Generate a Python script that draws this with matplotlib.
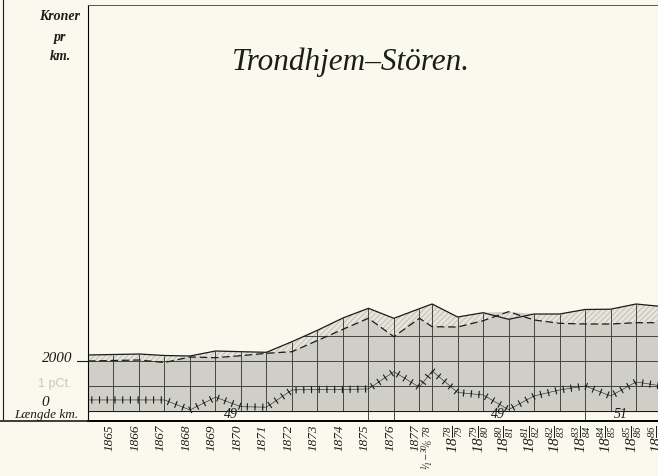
import numpy as np
import matplotlib
matplotlib.use("Agg")
import matplotlib.pyplot as plt
from matplotlib import patheffects
from matplotlib.lines import Line2D

# periods: length in years (the first half of 1878 is a half-year column)
period_labels = [
    "1865", "1866", "1867", "1868", "1869", "1870", "1871", "1872", "1873",
    "1874", "1875", "1876", "1877", r"$^{1}\!/\!_{1}\!-\!^{30}\!/\!_{6}\ 78$",
    r"$18\frac{78}{79}$", r"$18\frac{79}{80}$", r"$18\frac{80}{81}$",
    r"$18\frac{81}{82}$", r"$18\frac{82}{83}$", r"$18\frac{83}{84}$",
    r"$18\frac{84}{85}$", r"$18\frac{85}{86}$", r"$18\frac{86}{87}$",
]
period_years = [1] * 13 + [0.5] + [1] * 9

# kroner per km (value at start, then at the end of each period)
income = [2228, 2248, 2268, 2208, 2188, 2388, 2360, 2336, 2760, 3216, 3708,
          4096, 3696, 4080, 4268, 3748, 3920, 3656, 3868, 3868, 4048, 4060,
          4268, 4168]
expenses = [1988, 2008, 2028, 1928, 2148, 2120, 2200, 2296, 2360, 2808, 3256,
            3696, 2960, 3696, 3360, 3348, 3600, 3960, 3628, 3496, 3468, 3468,
            3520, 3520]
# return on capital, pCt.
return_pct = [0.43, 0.43, 0.43, 0.43, 0.03, 0.54, 0.16, 0.14, 0.83, 0.85,
              0.85, 0.87, 1.56, 0.94, 1.59, 0.73, 0.63, 0.04, 0.59, 0.83,
              0.99, 0.59, 1.15, 0.99]

# line length (km) written in the bottom strip
length_km = ["49", "49", "51"]
length_at = [5.6, 16.1, 20.9]

W, H = 658, 476
BG = "#faf9ee"
INK = "#1c1c1a"
plt.rcParams["mathtext.fontset"] = "custom"
plt.rcParams["mathtext.rm"] = "Liberation Serif:italic"
plt.rcParams["mathtext.it"] = "Liberation Serif:italic"
plt.rcParams["hatch.linewidth"] = 0.5


def px(x, y):
    return x / W, 1 - y / H


x = np.concatenate([[0], np.cumsum(period_years)])
inc = np.array(income, dtype=float)
exp_ = np.array(expenses, dtype=float)
ret = np.array(return_pct) * 1000  # 1 pCt. drawn at the height of 1000 kr

fig = plt.figure(figsize=(W / 100, H / 100), dpi=100, facecolor=BG)
ax = fig.add_axes([88 / W, 1 - 420.7 / H, (W - 88) / W, (420.7 - 5) / H])
ax.set_facecolor(BG)
ax.set_xlim(0, 22.36)
ax.set_ylim(-400, 16228)

# gray under the upper of the two lines, hatched band between them on top
top = np.maximum(inc, exp_)
clip = ax.fill_between(x, 0, top, facecolor="#cfcfc8", linewidth=0, zorder=1)
ax.fill_between(x, exp_, inc, facecolor="#e6e5db", hatch="//////",
                edgecolor="#b4b4aa", linewidth=0, zorder=1.5)

ax.vlines(x[1:], 0, inc[1:], color="#444440", lw=0.7, zorder=2)
for v in (1000, 2000, 3000):
    h = ax.axhline(v, color="#444440", lw=0.7, zorder=2)
    h.set_clip_path(clip.get_paths()[0], transform=ax.transData)
ax.axhline(0, color=INK, lw=0.8, zorder=3)

ax.plot(x, inc, color=INK, lw=0.9, zorder=4)
ax.plot(x, exp_, color=INK, lw=0.9, ls=(0, (6, 3)), zorder=4)
ax.plot(x, ret, color=INK, lw=0.4, zorder=5, path_effects=[
    patheffects.Normal(),
    patheffects.TickedStroke(spacing=5.5, angle=90, length=0.4, linewidth=0.8),
    patheffects.TickedStroke(spacing=5.5, angle=-90, length=0.4, linewidth=0.8),
])

# length strip
ax.vlines([11, 12, 19.5], -400, 0, color="#444440", lw=0.7)
for lab, xp in zip(length_km, length_at):
    ax.text(xp, -170, lab, ha="center", va="center", fontsize=10,
            family="Liberation Serif", style="italic", color=INK)

ax.set_xticks(x[1:] - 0.15)
ax.set_xticklabels(period_labels, rotation=90, fontsize=9.5,
                   family="Liberation Serif", style="italic", color=INK)
for lab in ax.get_xticklabels():
    txt = lab.get_text()
    if "frac" in txt:
        lab.set_fontsize(11)
    elif "30" in txt:
        lab.set_fontsize(8)
ax.tick_params(axis="x", length=0, pad=3)
ax.set_yticks([])
ax.spines["right"].set_visible(False)
ax.spines["left"].set_linewidth(0.8)
ax.spines["top"].set_linewidth(0.7)
ax.spines["top"].set_color("#555550")
ax.spines["bottom"].set_linewidth(1.4)

serif = dict(family="Liberation Serif", style="italic", color=INK)
fig.text(*px(351, 62), "Trondhjem–Stören.", ha="center", va="center",
         fontsize=22.5, **serif)
for t, yy in (("Kroner", 17), ("pr", 37), ("km.", 57)):
    fig.text(*px(60, yy), t, ha="center", va="center", fontsize=10,
             weight="bold", **serif)
fig.text(*px(57, 358), "2000", ha="center", va="center", fontsize=11, **serif)
fig.text(*px(45, 402), "0", ha="center", va="center", fontsize=11, **serif)
fig.text(*px(46, 415), "Længde km.", ha="center", va="center", fontsize=9.5,
         **serif)
fig.text(*px(55, 384), "1 pCt.", ha="center", va="center", fontsize=9,
         family="Liberation Sans", color="#c6c6bd")

# outer frame pieces
fig.add_artist(Line2D([3 / W, 3 / W], [1, 1 - 419 / H], color=INK, lw=0.8))
fig.add_artist(Line2D([0, 88 / W], [1 - 420.7 / H] * 2, color=INK, lw=1.2))
fig.add_artist(Line2D([77 / W, 88 / W], [1 - 360.7 / H] * 2, color=INK,
                      lw=0.8))

fig.savefig("out.png", dpi=100, facecolor=BG)
